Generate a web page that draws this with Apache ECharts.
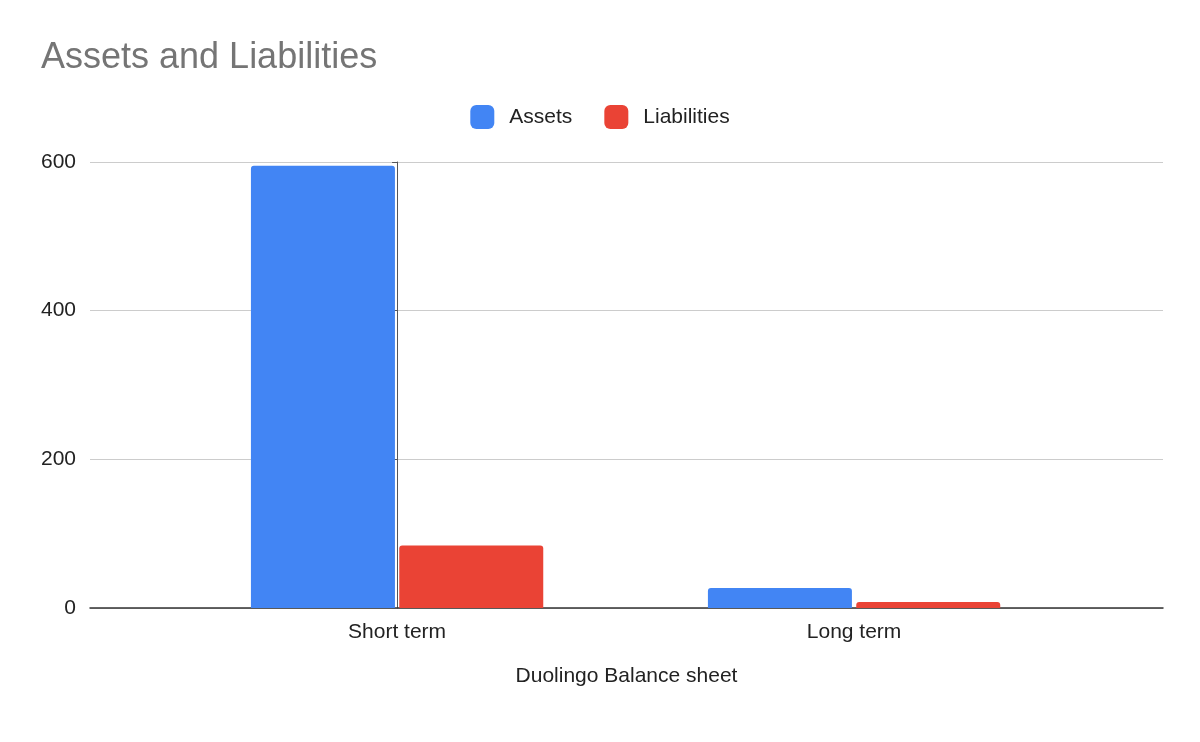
<!DOCTYPE html>
<html><head><meta charset="utf-8">
<script src="https://cdn.jsdelivr.net/npm/echarts@6/dist/echarts.min.js"></script>
<style>html,body{margin:0;padding:0;background:#fff}#c{width:1200px;height:742px}</style>
</head><body><div id="c"></div>
<script>
const categories = ["Short term", "Long term"];
const assets = [595, 27];
const liabilities = [84, 8];
const F = '"Liberation Sans", Arial, sans-serif';
const chart = echarts.init(document.getElementById('c'));
chart.setOption({
  animation: false,
  textStyle: { fontFamily: F },
  title: { text: 'Assets and Liabilities', left: 36, top: 35,
    textStyle: { fontSize: 36, fontWeight: 'normal', color: '#757575', fontFamily: F } },
  legend: { top: 100, left: 'center', itemWidth: 24, itemHeight: 24, itemGap: 32,
    textStyle: { fontSize: 21, color: '#222', padding: [0, 0, 0, 10] },
    data: [{ name: 'Assets', icon: 'roundRect' }, { name: 'Liabilities', icon: 'roundRect' }] },
  grid: { left: 90, right: 37, top: 162, bottom: 134 },
  xAxis: { type: 'value', min: -0.672, max: 1.676,
    name: 'Duolingo Balance sheet', nameLocation: 'middle', nameGap: 58,
    nameTextStyle: { fontSize: 21, color: '#222' },
    splitLine: { show: false }, axisTick: { show: false },
    axisLine: { show: true, lineStyle: { color: '#333', width: 1.5 } },
    axisLabel: { fontSize: 21, color: '#222', margin: 14, customValues: [0, 1],
      formatter: v => categories[Math.round(v)] || '' } },
  yAxis: { type: 'value', min: 0, max: 600, interval: 200,
    axisLabel: { fontSize: 21, color: '#222', margin: 14 },
    splitLine: { lineStyle: { color: '#ccc', width: 1.2 } } },
  series: [
    { name: 'Assets', type: 'bar', data: assets.map((v, i) => [i, v]), barWidth: 144, barGap: '3%',
      itemStyle: { color: '#4285f4', borderRadius: [3,3,0,0] } },
    { name: 'Liabilities', type: 'bar', data: liabilities.map((v, i) => [i, v]), barWidth: 144,
      itemStyle: { color: '#ea4335', borderRadius: [3,3,0,0] } }
  ]
});
</script></body></html>
